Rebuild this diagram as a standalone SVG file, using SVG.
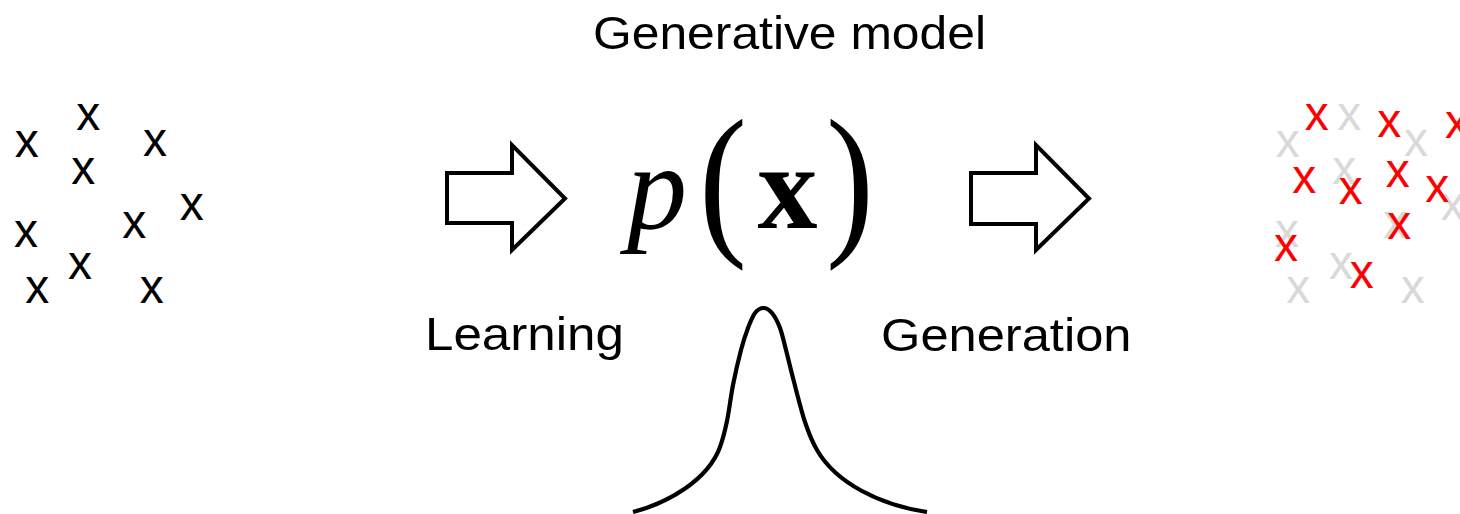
<svg xmlns="http://www.w3.org/2000/svg" width="1460" height="514" viewBox="0 0 1460 514">
  <style>
    .pt { font-family: "Liberation Sans", Arial, sans-serif; font-size: 48px; text-anchor: middle; }
    .blk { fill: #000000; }
    .gry { fill: #d9d9d9; }
    .red { fill: #ff0000; }
    .lbl { font-family: "Liberation Sans", Arial, sans-serif; font-size: 47px; fill: #000000; }
    .math { font-family: "Liberation Serif", "Times New Roman", serif; fill: #000000; }
    .arrow { fill: #ffffff; stroke: #000000; stroke-width: 4; stroke-linejoin: miter; }
    .curve { fill: none; stroke: #000000; stroke-width: 4.2; stroke-linecap: butt; stroke-linejoin: round; }
  </style>
  <rect width="1460" height="514" fill="#ffffff"/>

  <g id="title">
    <text class="lbl" x="593" y="49" textLength="393" lengthAdjust="spacingAndGlyphs">Generative model</text>
  </g>

  <g id="data-observed">
    <text class="pt blk" x="26.7" y="156.5">x</text>
    <text class="pt blk" x="88.3" y="130">x</text>
    <text class="pt blk" x="155" y="156">x</text>
    <text class="pt blk" x="83.3" y="184">x</text>
    <text class="pt blk" x="191.7" y="220">x</text>
    <text class="pt blk" x="134.3" y="237.5">x</text>
    <text class="pt blk" x="26" y="246.5">x</text>
    <text class="pt blk" x="80" y="278.5">x</text>
    <text class="pt blk" x="37.3" y="302.5">x</text>
    <text class="pt blk" x="151.7" y="302.5">x</text>
  </g>

  <g id="model">
    <text class="math" x="627" y="228" font-size="120" font-style="italic">p</text>
    <text class="math" transform="translate(723,235) scale(1.2,1.4)" x="0" y="0" font-size="120" text-anchor="middle">(</text>
    <text class="math" x="787.5" y="228" font-size="120" font-weight="bold" text-anchor="middle">x</text>
    <text class="math" transform="translate(850,235) scale(1.2,1.4)" x="0" y="0" font-size="120" text-anchor="middle">)</text>
    <path class="curve" d="M633,512 C668,503 708,480 720,447 C722.83,439.33 724.83,431.33 727,421 C729.17,410.67 730.67,396.83 733,385 C735.33,373.17 738.5,359.5 741,350 C743.5,340.5 745.67,334.17 748,328 C750.33,321.83 752.42,316.33 755,313 C757.58,309.67 760.67,308 763.5,308 C766.33,308 769.25,309.67 772,313 C774.75,316.33 777.67,321.83 780,328 C782.33,334.17 783.83,341.67 786,350 C788.17,358.33 789.83,366 793,378 C796.17,390 801,410 805,422 C809,434 811.67,440.83 817,450 C836,483 880,505 927,512"/>
  </g>

  <g id="data-generated">
    <g id="data-generated-gray">
      <text class="pt gry" x="1287.7" y="156.5">x</text>
      <text class="pt gry" x="1349.3" y="130">x</text>
      <text class="pt gry" x="1416" y="156">x</text>
      <text class="pt gry" x="1344.3" y="184">x</text>
      <text class="pt gry" x="1452.7" y="220">x</text>
      <text class="pt gry" x="1395.3" y="237.5">x</text>
      <text class="pt gry" x="1287" y="246.5">x</text>
      <text class="pt gry" x="1341" y="278.5">x</text>
      <text class="pt gry" x="1298.3" y="302.5">x</text>
      <text class="pt gry" x="1412.7" y="302.5">x</text>
    </g>
    <g id="data-generated-red">
      <text class="pt red" x="1316.7" y="130">x</text>
      <text class="pt red" x="1389.3" y="136.5">x</text>
      <text class="pt red" x="1457" y="137.5">x</text>
      <text class="pt red" x="1304.3" y="193">x</text>
      <text class="pt red" x="1350.7" y="204">x</text>
      <text class="pt red" x="1397.7" y="186.5">x</text>
      <text class="pt red" x="1437.3" y="201.5">x</text>
      <text class="pt red" x="1399.3" y="238.5">x</text>
      <text class="pt red" x="1286" y="261">x</text>
      <text class="pt red" x="1361.7" y="287.5">x</text>
    </g>
  </g>

  <g id="connectors">
    <g id="arrow-learning">
      <polygon class="arrow" points="447,173 512,173 512,145 565,198.5 512,250 512,223 447,223"/>
      <text class="lbl" x="425" y="350" textLength="199" lengthAdjust="spacingAndGlyphs">Learning</text>
    </g>
    <g id="arrow-generation">
      <polygon class="arrow" points="971,173 1036,173 1036,145 1089,198.5 1036,250 1036,224 971,224"/>
      <text class="lbl" x="881" y="351" textLength="250.5" lengthAdjust="spacingAndGlyphs">Generation</text>
    </g>
  </g>
</svg>
